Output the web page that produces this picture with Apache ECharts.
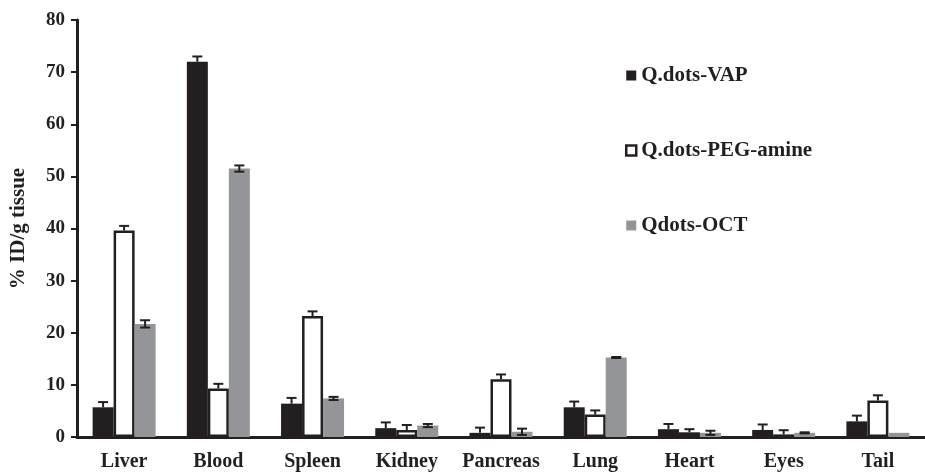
<!DOCTYPE html>
<html><head><meta charset="utf-8">
<script src="https://cdn.jsdelivr.net/npm/echarts@6/dist/echarts.min.js"></script>
<style>html,body{margin:0;padding:0;background:#fff}#c{width:925px;height:472px}</style>
</head><body><div id="c"></div>
<script>
const categories = ['Liver','Blood','Spleen','Kidney','Pancreas','Lung','Heart','Eyes','Tail'];
const seriesNames = ['Q.dots-VAP','Q.dots-PEG-amine','Qdots-OCT'];
const vap = [5.7, 72.0, 6.4, 1.7, 0.8, 5.7, 1.5, 1.35, 3.0];
const vapErr = [1.0, 1.0, 1.1, 1.1, 1.0, 1.1, 1.0, 1.05, 1.1];
const peg = [39.6, 9.3, 23.2, 1.35, 11.1, 4.3, 0.9, 0.5, 7.0];
const pegErr = [0.9, 0.9, 0.9, 0.95, 0.9, 0.8, 0.6, 0.8, 1.0];
const oct = [21.7, 51.5, 7.4, 2.2, 1.0, 15.25, 0.8, 0.8, 0.8];
const octErr = [0.7, 0.6, 0.3, 0.3, 0.6, 0.1, 0.4, 0.1, 0];
const yTicks = [0, 10, 20, 30, 40, 50, 60, 70, 80];

const FONT = '"Liberation Serif", "DejaVu Serif", serif';
const BLACK = '#231f20', GRAY = '#939598';
const BW = 21;

function errSeries(vals, errs, offset, both) {
  return {
    type: 'custom', z: 5, silent: true,
    data: vals.map((v, i) => [i, v, errs[i]]),
    renderItem: function (params, api) {
      const i = api.value(0), v = api.value(1), e = api.value(2);
      if (!e) return null;
      const top = api.coord([i, v + e]);
      const mid = api.coord([i, v]);
      const bot = api.coord([i, v - e]);
      const x = top[0] + offset;
      const y0 = both ? bot[1] : mid[1];
      const children = [
        {type:'line', shape:{x1:x, y1:top[1], x2:x, y2:y0}, style:{stroke:BLACK, lineWidth:2}},
        {type:'line', shape:{x1:x-5, y1:top[1], x2:x+5, y2:top[1]}, style:{stroke:BLACK, lineWidth:2}}
      ];
      if (both) children.push({type:'line', shape:{x1:x-5, y1:bot[1], x2:x+5, y2:bot[1]}, style:{stroke:BLACK, lineWidth:2}});
      return {type:'group', children};
    }
  };
}

const chart = echarts.init(document.getElementById('c'), null, {renderer:'canvas'});
chart.setOption({
  animation: false,
  backgroundColor: '#fff',
  grid: {left: 76, top: 20, bottom: 35, right: -6, containLabel: false},
  legend: {
    orient: 'vertical', left: 625, top: 65, padding: 0,
    itemWidth: 10, itemHeight: 10, itemGap: 54,
    textStyle: {fontFamily: FONT, fontWeight: 'bold', fontSize: 21, color: BLACK},
    data: [
      {name: seriesNames[0], icon: 'rect', itemStyle: {color: BLACK, borderWidth: 0}},
      {name: seriesNames[1], icon: 'rect', itemStyle: {color: '#fff', borderColor: BLACK, borderWidth: 2.5}},
      {name: seriesNames[2], icon: 'rect', itemStyle: {color: GRAY, borderWidth: 0}}
    ]
  },
  xAxis: {
    type: 'category', data: categories,
    axisLine: {lineStyle: {color: BLACK, width: 3}},
    axisTick: {show: false},
    axisLabel: {interval: 0, hideOverlap: false, fontFamily: FONT, fontWeight: 'bold', fontSize: 20, color: BLACK, margin: 15}
  },
  yAxis: {
    type: 'value', min: 0, max: 80, interval: 10,
    name: '% ID/g tissue', nameLocation: 'middle', nameGap: 48, nameRotate: 90,
    nameTextStyle: {fontFamily: FONT, fontWeight: 'bold', fontSize: 21, color: BLACK},
    axisLine: {show: true, lineStyle: {color: BLACK, width: 3}},
    axisTick: {show: true, length: 6, lineStyle: {color: BLACK, width: 2}},
    splitLine: {show: false},
    axisLabel: {fontFamily: FONT, fontWeight: 'bold', fontSize: 19, color: BLACK, margin: 12,
      formatter: v => yTicks.includes(v) ? String(v) : ''}
  },
  series: [
    {name: seriesNames[0], type: 'bar', data: vap, barWidth: BW, barGap: '0%', itemStyle: {color: BLACK}},
    {name: seriesNames[1], type: 'bar', data: peg, barWidth: BW, barGap: '0%', itemStyle: {color: '#fff', borderColor: BLACK, borderWidth: 2.5}},
    {name: seriesNames[2], type: 'bar', data: oct, barWidth: BW, barGap: '0%', itemStyle: {color: GRAY}},
    errSeries(vap, vapErr, -BW, false),
    errSeries(peg, pegErr, 0, false),
    errSeries(oct, octErr, BW, true)
  ]
});
</script></body></html>
